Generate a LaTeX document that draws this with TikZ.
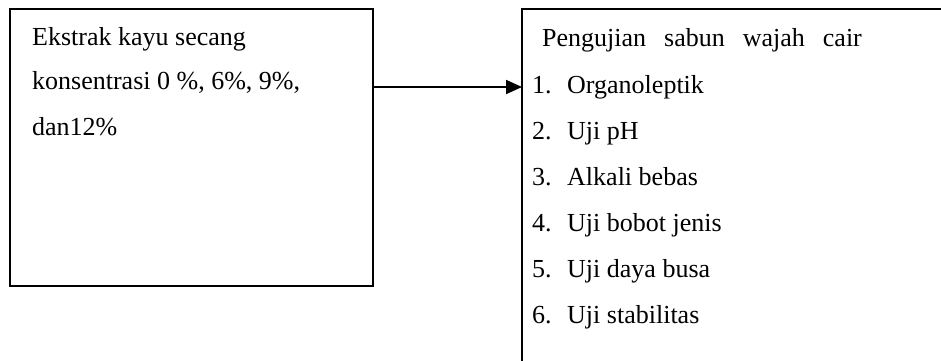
\documentclass[tikz,border=0pt]{standalone}
\usepackage{fontspec}
\setmainfont{Liberation Serif}
\usetikzlibrary{arrows.meta}
\begin{document}
\begin{tikzpicture}[x=1pt,y=-1pt,
  box/.style={draw,line width=1.8pt,inner sep=0pt,outer sep=0pt,anchor=north west},
  txt/.style={inner sep=0pt,anchor=base west,font=\fontsize{26}{30}\selectfont},
  arr/.style={line width=1.8pt,-{Triangle[length=16pt,width=14pt]}}]
\useasboundingbox (0,0) rectangle (941,360);
\clip (0,0) rectangle (941,360);
\node[box,minimum width=363pt,minimum height=277pt] (left) at (10,9) {};
\node[box,minimum width=460pt,minimum height=420pt] (right) at (522,9) {};
% left texts
\node[txt] (l1) at (32,45) {Ekstrak kayu secang};
\node[txt] (l2) at (32,89) {konsentrasi 0 \%, 6\%, 9\%,};
\node[txt] (l3) at (32,135) {dan12\%};
% right texts
\node[txt] (title) at (542,46) {Pengujian\hspace{18pt}sabun\hspace{18pt}wajah\hspace{18pt}cair};
\node[txt] (i1) at (532,93) {\makebox[35pt][l]{1.}Organoleptik};
\node[txt] (i2) at (532,139) {\makebox[35pt][l]{2.}Uji pH};
\node[txt] (i3) at (532,185) {\makebox[35pt][l]{3.}Alkali bebas};
\node[txt] (i4) at (532,231) {\makebox[35pt][l]{4.}Uji bobot jenis};
\node[txt] (i5) at (532,277) {\makebox[35pt][l]{5.}Uji daya busa};
\node[txt] (i6) at (532,323) {\makebox[35pt][l]{6.}Uji stabilitas};
% connector
\coordinate (ay) at (0,87);
\draw[arr] (left.east |- ay) -- (right.west |- ay);
\end{tikzpicture}
\end{document}
